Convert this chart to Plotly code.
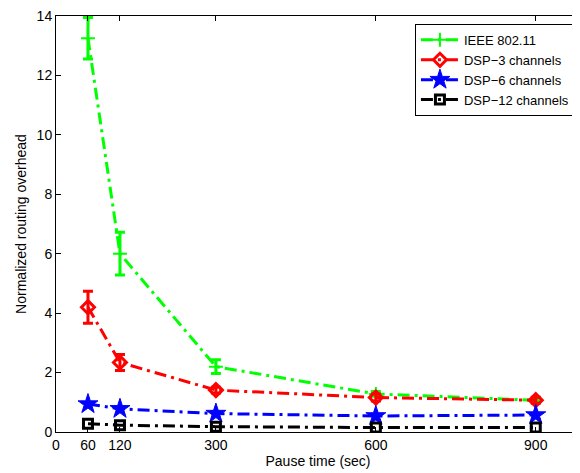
import plotly.graph_objects as go

pause = [60, 120, 300, 600, 900]
ieee = [13.25, 6.0, 2.2, 1.28, 1.07]
ieee_err = [0.7, 0.72, 0.23, 0.08, 0.06]
dsp3 = [4.2, 2.34, 1.41, 1.16, 1.07]
dsp3_err = [0.54, 0.27, 0.1, 0.12, 0.1]
dsp6 = [0.94, 0.78, 0.62, 0.54, 0.57]
dsp12 = [0.28, 0.23, 0.18, 0.15, 0.15]

x_ticks = [0, 60, 120, 300, 600, 900]
y_ticks = [0, 2, 4, 6, 8, 10, 12, 14]

DASH = "12px,5px,3px,5px"

fig = go.Figure()

fig.add_trace(go.Scatter(
    x=pause, y=ieee, name="IEEE 802.11", mode="lines+markers",
    line=dict(color="#00ff00", width=3, dash=DASH),
    marker=dict(symbol="cross-thin-open", size=10, line=dict(color="#00ff00", width=2)),
    error_y=dict(type="data", array=ieee_err, color="#00ff00", thickness=3, width=5),
))
fig.add_trace(go.Scatter(
    x=pause, y=dsp3, name="DSP−3 channels", mode="lines+markers",
    line=dict(color="#ff0000", width=3, dash=DASH),
    marker=dict(symbol="diamond-open", size=10, line=dict(color="#ff0000", width=3)),
    error_y=dict(type="data", array=dsp3_err, color="#ff0000", thickness=3, width=5),
))
fig.add_trace(go.Scatter(
    x=pause, y=dsp6, name="DSP−6 channels", mode="lines+markers",
    line=dict(color="#0000ff", width=3, dash=DASH),
    marker=dict(symbol="star", size=15, color="#0000ff", line=dict(color="#0000ff", width=1)),
))
fig.add_trace(go.Scatter(
    x=pause, y=dsp12, name="DSP−12 channels", mode="lines+markers",
    line=dict(color="#000000", width=3, dash=DASH),
    marker=dict(symbol="square-open", size=9, line=dict(color="#000000", width=3)),
))

# The page shows the figure offset by the default 8px body margin,
# so the figure itself is 8px smaller and margins are shifted.
fig.update_layout(
    width=572, height=465,
    margin=dict(l=48, r=0, t=8, b=41),
    paper_bgcolor="white", plot_bgcolor="white",
    font=dict(family="Liberation Sans, Arial, sans-serif", size=14, color="black"),
    showlegend=True,
    legend=dict(x=0.685, y=0.981, xanchor="left", yanchor="top",
                bordercolor="black", borderwidth=1, bgcolor="white",
                font=dict(size=13), tracegroupgap=0, itemwidth=38),
)
fig.update_xaxes(
    range=[0, 983], tickvals=x_ticks, ticktext=[str(v) for v in x_ticks],
    showline=True, linecolor="black", linewidth=1, mirror="ticks",
    ticks="inside", ticklen=5, tickcolor="black", showgrid=False, zeroline=False,
    automargin=False,
    title=dict(text="Pause time (sec)", standoff=2, font=dict(size=14)),
)
fig.update_yaxes(
    range=[0, 14.0001], tickvals=y_ticks, ticklabeloverflow="allow",
    showline=True, linecolor="black", linewidth=1, mirror=False,
    ticks="inside", ticklen=5, tickcolor="black", showgrid=False, zeroline=False,
    automargin=False,
    title=dict(text="Normalized routing overhead", standoff=6, font=dict(size=14)),
)

fig.write_html("out.html")
